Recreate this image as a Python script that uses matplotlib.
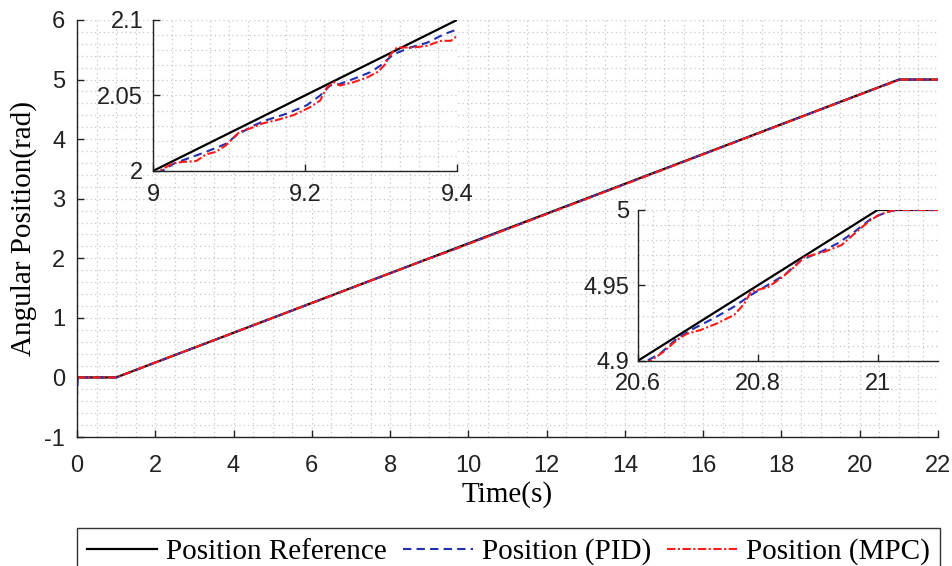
import matplotlib.pyplot as plt
from matplotlib.ticker import MultipleLocator

plt.rcParams['axes.unicode_minus'] = False

# reference trajectory (rad)
ref_t = [0, 1, 21, 22]
ref_pos = [0, 0, 5, 5]

# PID response
pid_t = [0, 0, 0.02, 1.0,
         9.0, 9.012, 9.028, 9.052, 9.070, 9.096, 9.110, 9.132, 9.149, 9.176,
         9.202, 9.220, 9.233, 9.246, 9.264, 9.286, 9.299, 9.317, 9.339, 9.361,
         9.383, 9.401, 9.42,
         20.59, 20.615, 20.638, 20.666, 20.694, 20.727, 20.761, 20.789, 20.817,
         20.845, 20.873, 20.906, 20.934, 20.962, 20.990, 21.013, 21.030, 22]
pid_pos = [0, -0.3, 0, 0,
           1.998, 2.000, 2.005, 2.0094, 2.0127, 2.018, 2.0237, 2.030, 2.0336, 2.038,
           2.0434, 2.050, 2.0566, 2.0577, 2.061, 2.0654, 2.0697, 2.0774, 2.0818, 2.085,
           2.0906, 2.0939, 2.098,
           4.896, 4.900, 4.905, 4.915, 4.9216, 4.9283, 4.936, 4.9437, 4.9503,
           4.957, 4.9669, 4.9724, 4.978, 4.9857, 4.9945, 4.9982, 5.000, 5.0]

# MPC response
mpc_t = [0, 1.0,
         9.0, 9.008, 9.026, 9.039, 9.057, 9.070, 9.083, 9.096, 9.114, 9.127,
         9.145, 9.162, 9.185, 9.207, 9.220, 9.229, 9.238, 9.246, 9.264, 9.282,
         9.295, 9.304, 9.313, 9.321, 9.344, 9.361, 9.379, 9.392, 9.403, 9.42,
         20.59, 20.621, 20.643, 20.666, 20.682, 20.705, 20.733, 20.761, 20.778,
         20.789, 20.817, 20.839, 20.862, 20.878, 20.912, 20.940, 20.962, 20.985,
         21.002, 21.024, 21.035, 22]
mpc_pos = [0, 0,
           1.998, 2.000, 2.005, 2.006, 2.0066, 2.011, 2.0127, 2.017, 2.026, 2.028,
           2.0316, 2.0336, 2.037, 2.0423, 2.0467, 2.0555, 2.0588, 2.0566, 2.0588, 2.062,
           2.0654, 2.0697, 2.0774, 2.0818, 2.0818, 2.083, 2.0862, 2.0862, 2.0906, 2.094,
           4.895, 4.900, 4.906, 4.914, 4.918, 4.9205, 4.925, 4.9305, 4.938,
           4.946, 4.9488, 4.9548, 4.9625, 4.9687, 4.9724, 4.9768, 4.9845, 4.9923,
           4.9967, 4.9996, 5.000, 5.0]

serif = 'Liberation Serif'
sans = 'Liberation Sans'
grid_kw = dict(color='#c6c6c6', linestyle=(0, (1, 2.5)), linewidth=0.9)


def style_axes(ax, tick_size, xpad, ypad):
    ax.spines['top'].set_visible(False)
    ax.spines['right'].set_visible(False)
    for s in ('left', 'bottom'):
        ax.spines[s].set_linewidth(1.0)
        ax.spines[s].set_color('#222222')
    ax.tick_params(which='major', direction='in', length=5, width=1.0,
                   labelsize=tick_size, colors='#222222')
    ax.tick_params(axis='x', which='major', pad=xpad)
    ax.tick_params(axis='y', which='major', pad=ypad)
    ax.tick_params(which='minor', length=0)
    for lab in ax.get_xticklabels() + ax.get_yticklabels():
        lab.set_fontfamily(sans)
    ax.grid(True, which='both', **grid_kw)
    ax.set_axisbelow(True)


def draw_lines(ax):
    ax.plot(ref_t, ref_pos, color='black', linewidth=1.6, label='Position Reference')
    ax.plot(pid_t, pid_pos, color='#2030b0', linestyle=(0, (4, 2.5)), linewidth=1.5,
            label='Position (PID)')
    ax.plot(mpc_t, mpc_pos, color='#ff1a1a', linestyle=(0, (4, 1.2, 1, 1.2)),
            linewidth=1.5, label='Position (MPC)')


fig = plt.figure(figsize=(9.53, 5.66), dpi=100)

# main plot
ax = fig.add_axes([0.0808, 0.2279, 0.9035, 0.7368])
draw_lines(ax)
ax.set_xlim(0, 22)
ax.set_ylim(-1, 6)
ax.xaxis.set_major_locator(MultipleLocator(2))
ax.xaxis.set_minor_locator(MultipleLocator(0.5))
ax.yaxis.set_major_locator(MultipleLocator(1))
ax.yaxis.set_minor_locator(MultipleLocator(0.2))
style_axes(ax, 17, 13, 8.5)
ax.set_xlabel('Time(s)', fontfamily=serif, fontsize=21, labelpad=3)
ax.set_ylabel('Angular Position(rad)', fontfamily=serif, fontsize=21, labelpad=5)

# zoom on the ramp
ax1 = fig.add_axes([0.1605, 0.6979, 0.319, 0.2668])
draw_lines(ax1)
ax1.set_xlim(9, 9.4)
ax1.set_ylim(2, 2.1)
ax1.set_xticks([9, 9.2, 9.4])
ax1.set_xticklabels(['9', '9.2', '9.4'])
ax1.set_yticks([2, 2.05, 2.1])
ax1.set_yticklabels(['2', '2.05', '2.1'])
ax1.xaxis.set_minor_locator(MultipleLocator(0.025))
ax1.yaxis.set_minor_locator(MultipleLocator(0.01))
style_axes(ax1, 17, 9.5, 7)

# zoom on the end of the ramp
ax2 = fig.add_axes([0.669, 0.3622, 0.3148, 0.2668])
draw_lines(ax2)
ax2.set_xlim(20.6, 21.1)
ax2.set_ylim(4.9, 5.0)
ax2.set_xticks([20.6, 20.8, 21])
ax2.set_xticklabels(['20.6', '20.8', '21'])
ax2.set_yticks([4.9, 4.95, 5.0])
ax2.set_yticklabels(['4.9', '4.95', '5'])
ax2.xaxis.set_minor_locator(MultipleLocator(0.025))
ax2.yaxis.set_minor_locator(MultipleLocator(0.01))
style_axes(ax2, 17, 9, 6)

handles, labels = ax.get_legend_handles_labels()
leg = fig.legend(handles, labels, loc='upper left', bbox_to_anchor=(0.0808, 1 - 528 / 566),
                 ncol=3, frameon=True, fancybox=False, handlelength=2.4,
                 handletextpad=0.3, columnspacing=0.55, borderpad=0.35,
                 borderaxespad=0, prop={'family': serif, 'size': 21})
leg.get_frame().set_edgecolor('black')
leg.get_frame().set_linewidth(1.0)

fig.savefig('out.png', dpi=100)
